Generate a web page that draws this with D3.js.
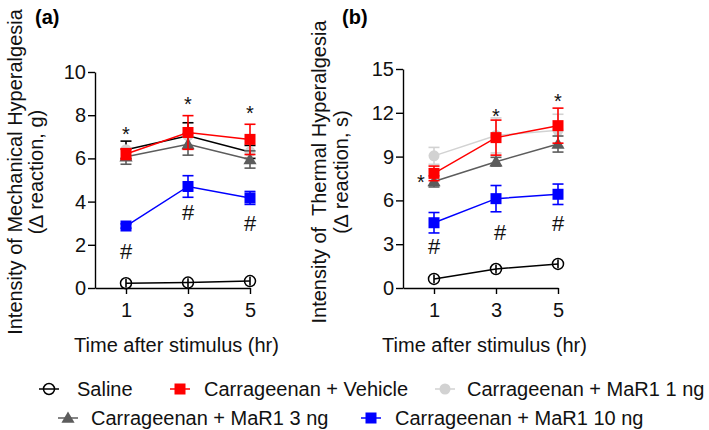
<!DOCTYPE html>
<html>
<head>
<meta charset="utf-8">
<script src="https://cdn.jsdelivr.net/npm/d3@7"></script>
<style>
  body { margin: 0; background: #fff; }
  svg { font-family: "Liberation Sans", Arial, sans-serif; }
</style>
</head>
<body>
<div class="graphContainer"></div>
<script>
var width = 709;
var height = 430;

// data
var times = [1, 3, 5];
var groups = ["Saline", "Carrageenan + Vehicle", "Carrageenan + MaR1 1 ng",
  "Carrageenan + MaR1 3 ng", "Carrageenan + MaR1 10 ng"];

var mechMeans = [
  [0.22, 0.25, 0.32],
  [6.2, 7.2, 6.88],
  [6.4, 7.05, 6.3],
  [6.08, 6.65, 5.95],
  [2.87, 4.7, 4.17]
];
var mechErrs = [
  [0.2, 0.2, 0.2],
  [0.25, 0.78, 0.7],
  [0.4, 0.6, 0.3],
  [0.35, 0.5, 0.4],
  [0.1, 0.5, 0.3]
];
var thermMeans = [
  [0.62, 1.3, 1.65],
  [7.85, 10.3, 11.12],
  [9.05, 10.45, 10.8],
  [7.3, 8.65, 9.86],
  [4.47, 6.12, 6.42]
];
var thermErrs = [
  [0.3, 0.3, 0.3],
  [0.5, 1.2, 1.2],
  [0.58, 1.2, 1.1],
  [0.38, 0.3, 0.55],
  [0.7, 0.9, 0.7]
];

var mechTicks = [0, 2, 4, 6, 8, 10];
var thermTicks = [0, 3, 6, 9, 12, 15];

// significance marks [x, y]
var mechStars = [[1, 7.35], [3, 8.75], [5, 8.33]];
var mechHashes = [[1, 1.71], [3, 3.52], [5, 3.0]];
var thermStars = [[0.58, 7.6], [3, 12.1], [5, 13.1]];
var thermHashes = [[1, 2.88], [3.13, 3.84], [5, 4.45]];

// styles
var colors = ["#000000", "#ff0000", "#d2d2d2", "#5c5c5c", "#0000ff"];
var shapes = ["circle", "square", "dot", "triangle", "square"];
var drawOrder = [2, 3, 1, 4, 0];

var svg = d3.select(".graphContainer")
  .append("svg")
  .attr("width", width)
  .attr("height", height);

function marker(g, shape, color, x, y) {
  if (shape == "circle") {
    g.append("circle").attr("cx", x).attr("cy", y).attr("r", 5.5)
      .style("fill", "none").style("stroke", color).style("stroke-width", 1.5);
  } else if (shape == "dot") {
    g.append("circle").attr("cx", x).attr("cy", y).attr("r", 5.5)
      .style("fill", color);
  } else if (shape == "square") {
    g.append("rect").attr("x", x - 5.5).attr("y", y - 5.5)
      .attr("width", 11).attr("height", 11).style("fill", color);
  } else {
    g.append("path")
      .attr("d", d3.symbol().type(d3.symbolTriangle).size(75)())
      .attr("transform", "translate(" + x + "," + (y + 1) + ")")
      .style("fill", color);
  }
}

function drawPanel(p) {
  var xScale = d3.scaleLinear().domain([0, 5]).range(p.xRange);
  var yScale = d3.scaleLinear().domain([0, p.yMax]).range([288, p.yTop]);

  var xAxis = d3.axisBottom(xScale).tickValues(times).tickFormat(d3.format("d"))
    .tickSize(6).tickSizeOuter(0).tickPadding(9);
  var yAxis = d3.axisLeft(yScale).tickValues(p.ticks).tickFormat(d3.format("d"))
    .tickSize(7).tickSizeOuter(0).tickPadding(2);

  var gx = svg.append("g").attr("transform", "translate(0,288)").call(xAxis);
  var gy = svg.append("g").attr("transform", "translate(" + p.xRange[0] + ",0)").call(yAxis);
  [gx, gy].forEach(function (g) {
    g.selectAll("path, line").style("stroke", "#000").style("stroke-width", 1.4);
    g.selectAll("text").style("font-size", "20px")
      .style("font-family", "Liberation Sans, Arial, sans-serif").style("fill", "#111");
  });

  // panel letter
  svg.append("text")
    .attr("x", p.letterX).attr("y", 24)
    .style("font-size", "20px").style("font-weight", "bold")
    .text(p.letter);

  // y title
  p.yTitle.forEach(function (t, i) {
    svg.append("text")
      .attr("transform", "translate(" + p.yTitleX[i] + ",172) rotate(-90)")
      .attr("text-anchor", "middle")
      .style("font-size", "20px").style("fill", "#111")
      .style("white-space", "pre")
      .text(t);
  });

  // x title
  svg.append("text")
    .attr("x", (p.xRange[0] + p.xRange[1]) / 2 + 4).attr("y", 352)
    .attr("text-anchor", "middle")
    .style("font-size", "20px").style("fill", "#111")
    .text("Time after stimulus (hr)");

  var line = d3.line()
    .x(function (d, i) { return xScale(times[i]); })
    .y(function (d) { return yScale(d); });

  drawOrder.forEach(function (s) {
    var g = svg.append("g");
    var col = colors[s];
    var lineCol = p.lineColors && p.lineColors[s] ? p.lineColors[s] : col;
    g.append("path").attr("d", line(p.means[s]))
      .style("fill", "none").style("stroke", lineCol).style("stroke-width", 1.5);
    p.means[s].forEach(function (m, i) {
      var x = xScale(times[i]);
      var e = p.errs[s][i];
      g.append("line").attr("x1", x).attr("x2", x)
        .attr("y1", yScale(m - e)).attr("y2", yScale(m + e))
        .style("stroke", lineCol).style("stroke-width", 1.6);
      if (s != 0) {
        [m - e, m + e].forEach(function (v) {
          g.append("line").attr("x1", x - 5.5).attr("x2", x + 5.5)
            .attr("y1", yScale(v)).attr("y2", yScale(v))
            .style("stroke", lineCol).style("stroke-width", 1.6);
        });
      }
      marker(g, shapes[s], col, x, yScale(m));
    });
  });

  p.stars.forEach(function (d) {
    svg.append("text")
      .attr("x", xScale(d[0])).attr("y", yScale(d[1]))
      .attr("dy", "0.58em").attr("text-anchor", "middle")
      .style("font-size", "20px").style("fill", "#111").text("*");
  });
  p.hashes.forEach(function (d) {
    svg.append("text")
      .attr("x", xScale(d[0])).attr("y", yScale(d[1]))
      .attr("dy", "0.35em").attr("text-anchor", "middle")
      .style("font-size", "22px").style("fill", "#111").text("#");
  });
}

drawPanel({
  letter: "(a)", letterX: 35,
  xRange: [95, 250], yMax: 10, yTop: 72, ticks: mechTicks,
  means: mechMeans, errs: mechErrs,
  lineColors: [null, null, "#000000", null, null],
  yTitle: ["Intensity of Mechanical Hyperalgesia", "(\u2206 reaction, g)"],
  yTitleX: [22, 43],
  stars: mechStars, hashes: mechHashes
});

drawPanel({
  letter: "(b)", letterX: 342,
  xRange: [403, 558], yMax: 15, yTop: 69, ticks: thermTicks,
  means: thermMeans, errs: thermErrs,
  yTitle: ["Intensity of  Thermal Hyperalgesia", "(\u2206 reaction, s)"],
  yTitleX: [326, 348],
  stars: thermStars, hashes: thermHashes
});

// legend
var legendPos = [
  { x: 49, tx: 77, y: 389 },
  { x: 180, tx: 204, y: 389 },
  { x: 445, tx: 467, y: 389 },
  { x: 68, tx: 91, y: 418 },
  { x: 371, tx: 395, y: 418 }
];
var legend = svg.append("g").attr("id", "legend");
groups.forEach(function (name, s) {
  var lp = legendPos[s];
  legend.append("line")
    .attr("x1", lp.x - 10).attr("x2", lp.x + 10)
    .attr("y1", lp.y).attr("y2", lp.y)
    .style("stroke", colors[s]).style("stroke-width", 1.5);
  marker(legend, shapes[s], colors[s], lp.x, lp.y);
  legend.append("text")
    .attr("x", lp.tx).attr("y", lp.y + 7)
    .style("font-size", "20px").style("fill", "#111")
    .text(name);
});
</script>
</body>
</html>
